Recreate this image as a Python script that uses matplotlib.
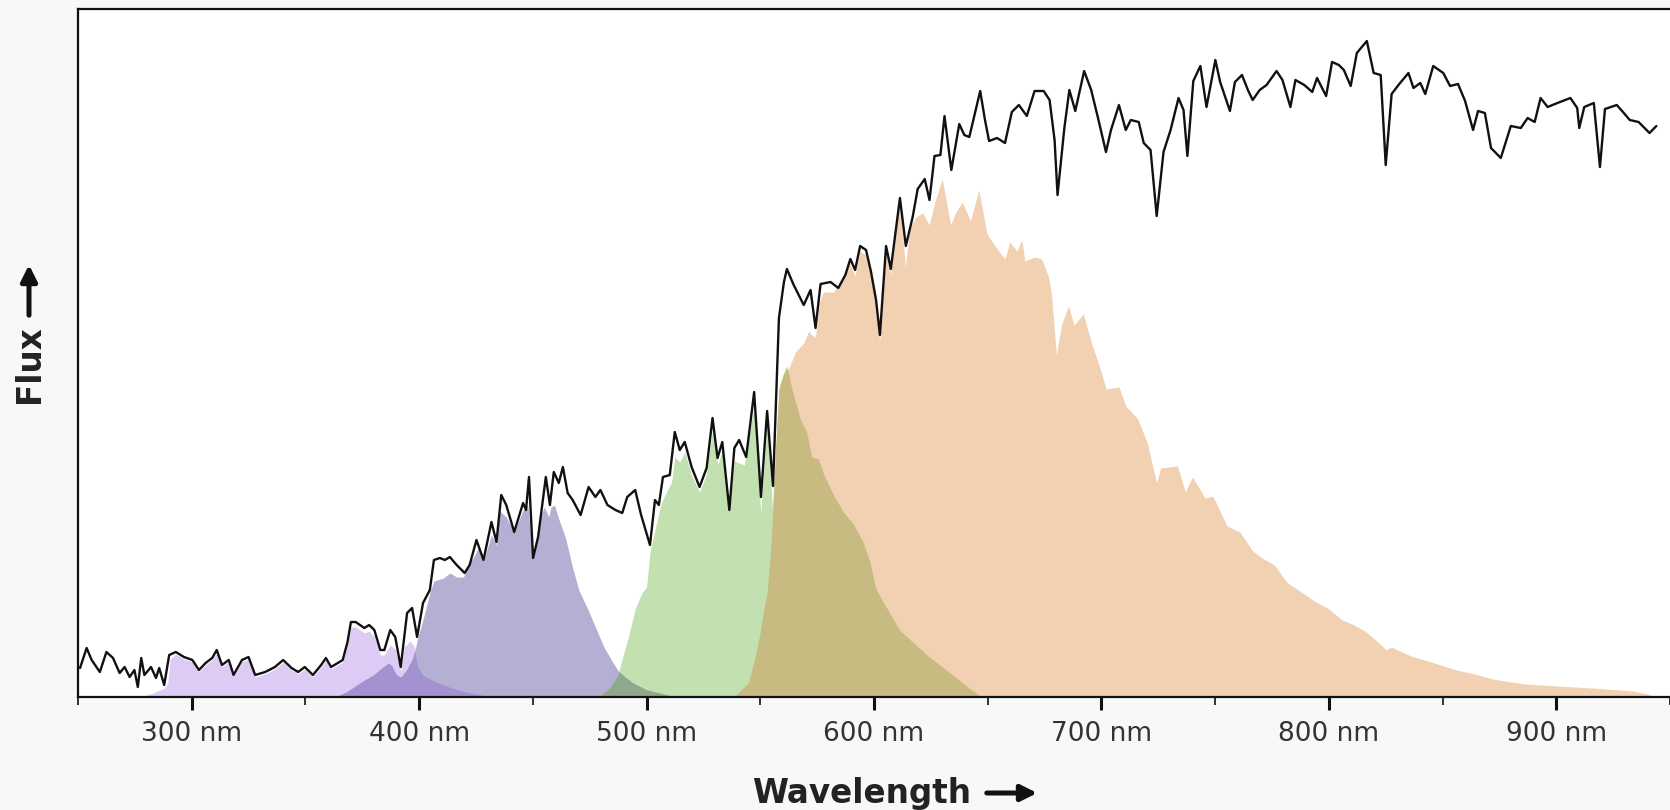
import matplotlib
matplotlib.use("Agg")
import matplotlib.pyplot as plt
from matplotlib.patches import FancyArrowPatch
import numpy as np

# Stellar spectrum (wavelength in nm, flux in arbitrary units)
spec_nm = [250.9, 253.8, 256.0, 259.6, 262.5, 265.4, 268.3, 270.5, 272.7, 274.8, 276.3, 277.8,
           279.2, 282.1, 284.3, 285.7, 287.9, 290.1, 293.0, 296.6, 300.3, 303.2, 306.1, 309.0,
           311.0, 313.3, 316.3, 318.4, 322.1, 325.0, 327.9, 332.3, 336.6, 340.2, 343.9, 346.8,
           349.7, 353.3, 356.9, 359.0, 361.3, 366.4, 368.5, 370.0, 372.1, 375.9, 378.0, 380.3,
           382.9, 384.7, 387.3, 389.5, 391.9, 394.7, 396.9, 399.1, 401.7, 404.7, 406.5, 409.1,
           411.3, 413.5, 416.5, 420.0, 422.2, 425.2, 428.3, 431.8, 434.0, 436.1, 438.3, 441.8,
           445.7, 447.0, 448.3, 450.1, 452.3, 454.4, 455.7, 457.5, 459.2, 461.4, 463.2, 465.3,
           467.5, 471.0, 474.5, 477.5, 479.7, 482.8, 486.3, 489.3, 491.5, 495.0, 497.6, 501.5,
           503.7, 505.4, 507.2, 510.2, 512.4, 514.6, 516.8, 519.8, 523.3, 526.4, 529.0, 531.2,
           533.3, 536.4, 538.6, 540.7, 543.8, 547.3, 550.3, 553.0, 555.6, 558.2, 560.4, 561.7,
           564.7, 569.1, 572.1, 574.3, 576.5, 580.9, 584.3, 587.4, 589.6, 591.7, 593.9, 596.5,
           598.7, 600.9, 602.6, 605.3, 607.4, 611.4, 614.0, 617.0, 619.2, 622.3, 624.4, 626.6,
           629.2, 631.0, 634.0, 637.5, 639.7, 641.9, 644.5, 646.7, 648.8, 650.6, 654.1, 657.6,
           660.6, 663.7, 667.2, 670.6, 674.6, 677.2, 679.4, 680.7, 683.7, 685.9, 688.5, 692.4,
           695.5, 698.5, 702.0, 704.2, 707.7, 710.7, 712.9, 716.4, 718.6, 721.6, 724.3, 727.3,
           730.4, 733.9, 736.1, 737.8, 740.4, 743.5, 746.2, 750.1, 752.2, 756.5, 758.7, 761.8,
           764.4, 766.5, 769.6, 772.6, 777.0, 779.6, 783.1, 785.3, 789.2, 792.7, 794.8, 798.8,
           801.4, 804.4, 806.6, 809.6, 812.3, 816.7, 819.7, 822.8, 825.0, 827.6, 830.6, 835.0,
           837.2, 840.2, 842.4, 845.9, 850.3, 853.3, 856.8, 859.9, 863.4, 865.6, 868.6, 871.3,
           875.6, 880.0, 884.4, 887.4, 890.5, 893.1, 896.2, 900.5, 906.2, 909.2, 910.1, 912.3,
           916.5, 919.2, 921.4, 926.6, 929.7, 932.3, 936.2, 941.0, 944.0]
spec_flux = [29, 49, 37, 25, 45, 39, 24, 30, 20, 27, 10, 39,
             22, 30, 19, 29, 12, 42, 45, 40, 37, 27, 34, 39,
             47, 32, 37, 22, 37, 40, 22, 25, 30, 37, 29, 25,
             30, 22, 32, 39, 30, 37, 55, 75, 75, 69, 72, 67,
             47, 47, 67, 60, 30, 84, 89, 60, 94, 107, 137, 139,
             137, 140, 132, 124, 132, 157, 137, 175, 155, 202, 192, 165,
             194, 187, 220, 139, 160, 197, 220, 192, 225, 214, 230, 204,
             197, 182, 210, 200, 207, 192, 187, 184, 200, 207, 182, 152,
             197, 192, 220, 222, 265, 247, 255, 230, 210, 229, 279, 239,
             255, 187, 249, 257, 240, 305, 200, 286, 211, 379, 415, 428,
             412, 392, 407, 369, 413, 415, 409, 422, 438, 427, 451, 447,
             425, 397, 362, 451, 428, 499, 451, 480, 508, 518, 497, 541,
             542, 581, 527, 573, 562, 560, 585, 606, 577, 556, 559, 554,
             585, 592, 581, 606, 606, 597, 557, 502, 569, 607, 586, 626,
             607, 579, 545, 567, 592, 567, 577, 575, 554, 547, 481, 545,
             567, 599, 587, 541, 616, 631, 590, 637, 615, 586, 615, 622,
             607, 597, 607, 612, 626, 617, 590, 617, 612, 605, 619, 601,
             635, 632, 627, 611, 644, 656, 624, 622, 532, 603, 612, 624,
             609, 614, 603, 631, 624, 611, 613, 596, 567, 586, 584, 549,
             539, 571, 569, 579, 575, 599, 590, 594, 599, 589, 569, 590,
             594, 530, 588, 592, 584, 577, 575, 564, 571]

# Flux seen through each filter
uv_nm = [277.0, 283.0, 288.0, 289.5, 290.5, 293.0, 296.6, 300.3, 303.2, 306.1, 309.0, 311.0,
         313.3, 316.3, 318.4, 322.1, 325.0, 327.9, 332.3, 336.6, 340.2, 343.9, 346.8, 349.7,
         353.3, 356.9, 359.0, 361.3, 366.4, 368.5, 370.0, 372.1, 375.9, 378.0, 380.3, 382.9,
         384.7, 387.3, 389.5, 391.9, 393.5, 396.0, 398.0, 399.5, 402.0, 408.0, 414.0, 420.0,
         426.0, 432.0]
uv_flux = [0, 4, 9, 14, 38, 43, 38, 35, 25, 32, 37, 44,
           30, 35, 20, 35, 38, 20, 23, 28, 35, 27, 23, 28,
           20, 30, 37, 28, 35, 52, 70, 70, 64, 66, 60, 42,
           42, 52, 48, 26, 50, 56, 50, 30, 21, 14, 9, 5,
           2, 0]

blue_nm = [363.0, 368.0, 372.0, 376.0, 380.0, 383.0, 386.5, 388.0, 390.0, 392.0, 394.5, 397.0,
           398.0, 399.0, 400.0, 402.0, 404.8, 406.5, 410.7, 413.5, 416.5, 419.5, 422.2, 424.0,
           426.0, 428.3, 431.8, 434.0, 435.3, 438.3, 441.8, 445.7, 447.8, 450.0, 452.8, 455.0,
           457.0, 458.0, 459.5, 461.4, 464.5, 467.4, 470.2, 473.9, 477.5, 481.2, 484.8, 487.6,
           490.6, 494.0, 500.0, 507.0, 512.0]
blue_flux = [0, 5, 11, 17, 22, 28, 34, 31, 22, 20, 27, 38,
             45, 55, 64, 80, 105, 116, 119, 124, 120, 120, 134, 140,
             149, 136, 162, 152, 186, 180, 165, 187, 192, 138, 177, 190,
             180, 190, 192, 178, 158, 130, 107, 89, 70, 50, 36, 26,
             20, 14, 7, 3, 0]

green_nm = [479.0, 484.0, 487.4, 489.5, 492.0, 495.0, 497.9, 500.0, 501.5, 502.8, 505.0, 506.6,
            508.8, 511.0, 512.4, 514.6, 516.8, 519.7, 523.3, 526.2, 529.1, 531.3, 533.5, 536.4,
            538.6, 543.0, 547.3, 550.2, 553.1, 555.3, 558.2, 561.0, 561.7, 563.9, 567.6, 570.4,
            572.6, 575.6, 577.8, 582.2, 586.5, 590.9, 595.2, 598.2, 600.9, 604.0, 606.9, 611.2,
            617.0, 624.3, 633.0, 641.7, 647.5]
green_flux = [0, 10, 22, 40, 60, 88, 104, 110, 145, 158, 180, 195,
              205, 215, 240, 235, 245, 222, 205, 222, 268, 232, 248, 185,
              236, 232, 291, 185, 274, 190, 308, 329, 331, 308, 278, 265,
              240, 238, 223, 202, 185, 173, 155, 135, 108, 95, 84, 67,
              55, 40, 25, 9, 0]

orange_nm = [539.0, 545.0, 548.0, 550.0, 551.6, 553.3, 554.5, 556.0, 557.4, 558.5, 560.0, 562.6,
             565.5, 569.1, 571.3, 572.5, 574.3, 576.0, 577.8, 582.2, 586.5, 589.4, 591.6, 593.8,
             596.5, 598.7, 600.9, 602.5, 605.3, 607.4, 611.0, 612.7, 613.8, 615.6, 618.4, 621.4,
             624.3, 627.0, 630.0, 633.7, 635.8, 638.8, 642.4, 646.1, 649.7, 653.2, 657.6, 659.7,
             662.8, 665.0, 666.3, 670.6, 673.7, 676.6, 678.0, 680.2, 682.4, 685.5, 688.0, 692.0,
             695.5, 699.9, 702.0, 707.7, 710.7, 716.0, 720.3, 722.5, 724.3, 726.0, 733.4, 736.9,
             740.0, 745.6, 749.0, 755.2, 760.9, 766.5, 770.0, 776.0, 781.8, 786.0, 793.6, 800.0,
             805.8, 810.2, 815.8, 819.0, 823.0, 825.2, 827.4, 836.0, 845.0, 856.0, 864.0, 872.0,
             886.0, 900.5, 916.0, 934.0, 940.0, 944.0]
orange_flux = [0, 14, 40, 62, 85, 105, 139, 194, 278, 312, 322, 329,
               345, 354, 366, 362, 360, 395, 405, 405, 417, 434, 421, 446,
               442, 423, 390, 355, 446, 423, 495, 459, 430, 467, 480, 484,
               472, 497, 518, 472, 484, 495, 476, 507, 463, 451, 438, 455,
               446, 457, 436, 440, 438, 421, 404, 342, 372, 391, 372, 383,
               355, 325, 308, 310, 291, 278, 253, 231, 214, 229, 231, 205,
               220, 199, 201, 171, 165, 146, 140, 132, 114, 108, 96, 88,
               77, 73, 66, 60, 52, 47, 50, 41, 35, 27, 23, 18,
               13, 11, 9, 6, 3, 0]

tick_nm = [300, 400, 500, 600, 700, 800, 900]
tick_labels = [f"{v} nm" for v in tick_nm]

UV_COLOR = "#ddcaf5"
BLUE_COLOR = "#b4b0d4"
GREEN_COLOR = "#c3e0b0"
ORANGE_COLOR = "#f1d1b1"
UV_BLUE = "#a491d0"
BLUE_GREEN = "#8fa88e"
GREEN_ORANGE = "#c7bb82"
INK = "#111111"

W, H = 1670, 810
fig = plt.figure(figsize=(W / 100, H / 100), dpi=100, facecolor="#f8f8f8")
ax = fig.add_axes([78 / W, 113 / H, 1 - 78 / W, 688 / H])
ax.set_facecolor("white")
ax.set_xlim(250, 944)
ax.set_ylim(0, 688)

uv = ax.fill_between(uv_nm, uv_flux, color=UV_COLOR, lw=0, zorder=1)
blue = ax.fill_between(blue_nm, blue_flux, color=BLUE_COLOR, lw=0, zorder=1)
green = ax.fill_between(green_nm, green_flux, color=GREEN_COLOR, lw=0, zorder=1)
orange = ax.fill_between(orange_nm, orange_flux, color=ORANGE_COLOR, lw=0, zorder=1)


def shade_overlap(x, y, other, color):
    """Darker tone where two filter bands overlap."""
    patch = ax.fill_between(x, y, color=color, lw=0, zorder=2)
    patch.set_clip_path(other.get_paths()[0], ax.transData)


shade_overlap(blue_nm, blue_flux, uv, UV_BLUE)
shade_overlap(green_nm, green_flux, blue, BLUE_GREEN)
shade_overlap(green_nm, green_flux, orange, GREEN_ORANGE)

ax.plot(spec_nm, spec_flux, color=INK, lw=1.7, zorder=3,
        solid_joinstyle="round", solid_capstyle="round")

ax.set_xticks(tick_nm)
ax.set_xticklabels(tick_labels)
ax.set_xticks(np.arange(250, 951, 100), minor=True)
ax.set_yticks([])
ax.tick_params(axis="x", which="major", length=9, width=2.2, direction="out",
               labelsize=19, labelcolor="#333333", pad=8, color=INK)
ax.tick_params(axis="x", which="minor", length=5.5, width=1.2, direction="out",
               color=INK)

for side in ("top", "left", "bottom"):
    ax.spines[side].set_linewidth(1.6)
    ax.spines[side].set_color(INK)
ax.spines["right"].set_visible(False)

# Axis titles with heavy arrows
fig.text(862 / W, 1 - 793 / H, "Wavelength", ha="center", va="center",
         fontsize=23.5, fontweight="bold", color="#222222")
fig.add_artist(FancyArrowPatch((984 / W, 1 - 793 / H), (1040 / W, 1 - 793 / H),
                               transform=fig.transFigure, arrowstyle="-|>",
                               mutation_scale=24, lw=3.6, color=INK))

fig.text(29 / W, 1 - 364 / H, "Flux", ha="center", va="center", rotation=90,
         fontsize=23.5, fontweight="bold", color="#222222")
fig.add_artist(FancyArrowPatch((29 / W, 1 - 318 / H), (29 / W, 1 - 262 / H),
                               transform=fig.transFigure, arrowstyle="-|>",
                               mutation_scale=24, lw=3.6, color=INK))

fig.savefig("out.png", dpi=100, facecolor=fig.get_facecolor())
